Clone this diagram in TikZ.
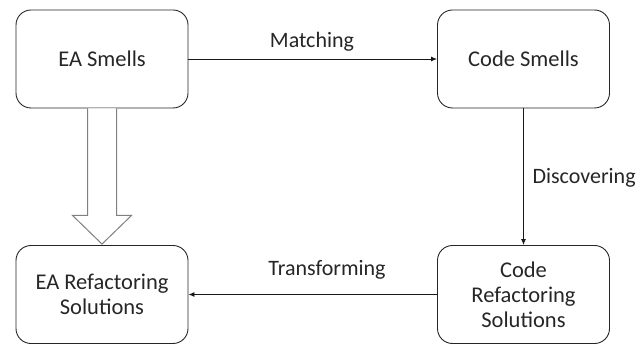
\documentclass[tikz,border=0pt]{standalone}
\usepackage{fontspec}
\setmainfont{Carlito}
\usetikzlibrary{arrows.meta,calc}
\begin{document}
\begin{tikzpicture}[x=1pt,y=-1pt,
  box/.style={draw=black!85, line width=0.9pt, rounded corners=15pt,
    minimum width=172pt, minimum height=98pt, align=center,
    font=\fontsize{22.5}{27}\selectfont, text=black!85},
  flow/.style={draw=black!90, line width=0.9pt, -{Latex[length=6pt,width=5pt]}},
  lbl/.style={font=\fontsize{22}{26}\selectfont, text=black!85},
  hollow/.style={draw=black!50, line width=1pt, fill=white}]
  \useasboundingbox (0,0) rectangle (644,344);

  % four stages
  \node[box] (eas) at (102,59) {EA Smells};
  \node[box] (cs) at (523.5,59) {Code Smells};
  \node[box] (ear) at (102,294.5) {EA Refactoring\\[-2pt]Solutions};
  \node[box] (cr) at (523.5,294.5) {Code\\[-2pt]Refactoring\\[-2pt]Solutions};

  % connectors between stages
  \draw[flow] (eas.east) -- (cs.west);
  \draw[flow] (cs.south) -- (cr.north);
  \draw[flow] (cr.west) -- (ear.east);

  % labels on the connectors
  \node[lbl] (lm) at (312,42) {Matching};
  \node[lbl, anchor=west] (ld) at (529,178) {Discovering};
  \node[lbl] (lt) at (327,270) {Transforming};

  % wide hollow arrow from EA Smells down to EA Refactoring Solutions
  \draw[hollow, line join=miter]
    ($(eas.south)+(-14.5,0)$) -- ($(eas.south)+(-14.5,107)$)
    -- ($(eas.south)+(-29.5,107)$) -- ($(ear.north)+(0,-1)$)
    -- ($(eas.south)+(29.5,107)$) -- ($(eas.south)+(14.5,107)$)
    -- ($(eas.south)+(14.5,0)$);
\end{tikzpicture}
\end{document}
